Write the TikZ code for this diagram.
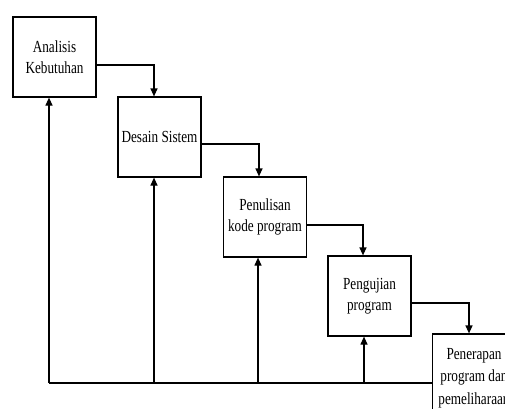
\documentclass[tikz,border=0pt]{standalone}
\usepackage{fontspec}
\setmainfont{Liberation Serif}[FakeStretch=0.78]
\usetikzlibrary{arrows.meta}
\begin{document}
\begin{tikzpicture}[x=1bp,y=-1bp,
  box/.style={draw,line width=1.2pt,minimum width=83bp,minimum height=80bp,inner sep=0pt,align=center,
    font=\fontsize{17}{20.5}\selectfont},
  flow/.style={line width=1.2pt,-{Triangle[length=8bp,width=7bp]}},
  ret/.style={line width=1.2pt}]
\useasboundingbox (0,0) rectangle (505,408);
\clip (0,0) rectangle (505,408);
\node[box] (b1) at (54.5,57) {Analisis\\Kebutuhan};
\node[box] (b2) at (159.5,137) {Desain Sistem};
\node[box] (b3) at (265,217) {Penulisan\\kode program};
\node[box] (b4) at (369.5,296) {Pengujian\\program};
\node[box,minimum height=88bp,font=\fontsize{17}{22.5}\selectfont] (b5) at (474,378) {Penerapan\\program dan\\pemeliharaan};
\draw[flow] (b1.east |- 0,65) -| (b2.north -| 154,0);
\draw[flow] (b2.east |- 0,144) -| (b3.north -| 259,0);
\draw[flow] (b3.east |- 0,225) -| (b4.north -| 363,0);
\draw[flow] (b4.east |- 0,303) -| (b5.north -| 469,0);
\coordinate (c1) at (49,383);
\coordinate (c2) at (154,383);
\coordinate (c3) at (258,383);
\coordinate (c4) at (364,383);
\draw[ret] (b5.west |- c1) -- (c1);
\draw[flow] (c1) -- (c1 |- b1.south);
\draw[flow] (c2) -- (c2 |- b2.south);
\draw[flow] (c3) -- (c3 |- b3.south);
\draw[flow] (c4) -- (c4 |- b4.south);
\end{tikzpicture}
\end{document}
